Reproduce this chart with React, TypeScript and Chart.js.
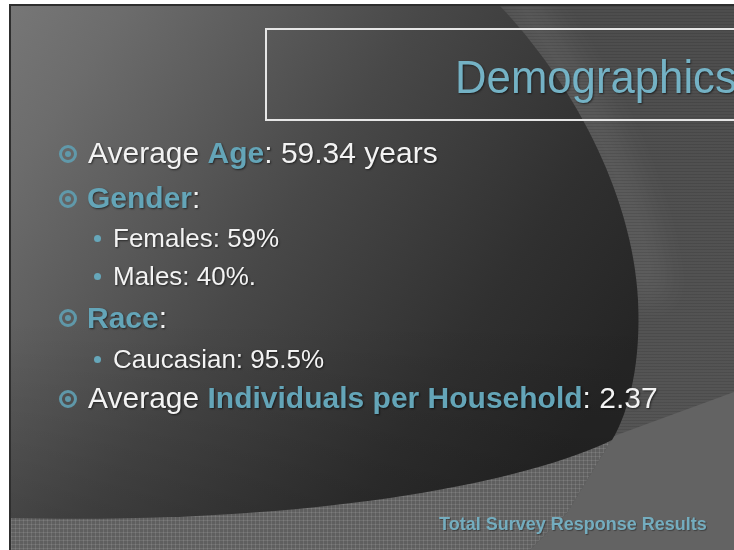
import React, { useEffect, useRef } from 'react';
import { Chart, registerables } from 'chart.js';

Chart.register(...registerables);

// ---- content (data) ----
const titleText = 'Demographics';
const footerText = 'Total Survey Response Results';
const averageAge = [59.34];
const genderLabels = ['Females', 'Males'];
const genderPercents = [59, 40];
const genderSuffix = ['', '.'];
const raceLabels = ['Caucasian'];
const racePercents = [95.5];
const householdSize = [2.37];

const W = 734;
const H = 550;
const TEAL = '#64a5b8';
const WHITE = '#f3f3f3';
const FONT = '"Liberation Sans", Arial, Helvetica, sans-serif';

function darkPath(ctx: CanvasRenderingContext2D, L: number, T: number) {
  ctx.beginPath();
  ctx.moveTo(500, T);
  ctx.bezierCurveTo(570, 80, 632, 190, 638, 300);
  ctx.bezierCurveTo(641, 360, 630, 410, 612, 440);
  ctx.bezierCurveTo(520, 485, 300, 525, L, 518);
  ctx.lineTo(L, T);
  ctx.closePath();
}

function drawSlide(ctx: CanvasRenderingContext2D) {
  const L = 11;
  const T = 6;
  ctx.save();
  ctx.fillStyle = '#ffffff';
  ctx.fillRect(0, 0, W, H);

  // striped base (right area)
  const g0 = ctx.createLinearGradient(0, T, 0, H);
  g0.addColorStop(0, '#4d4d4d');
  g0.addColorStop(1, '#575757');
  ctx.fillStyle = g0;
  ctx.fillRect(L, T, W - L, H - T);

  // soft sheen next to the dark shape
  ctx.save();
  ctx.filter = 'blur(14px)';
  ctx.beginPath();
  ctx.moveTo(505, -20);
  ctx.bezierCurveTo(575, 80, 640, 190, 648, 300);
  ctx.strokeStyle = 'rgba(255,255,255,0.07)';
  ctx.lineWidth = 40;
  ctx.stroke();
  ctx.restore();

  ctx.fillStyle = 'rgba(0,0,0,0.09)';
  for (let y = T; y < H; y += 3) ctx.fillRect(L, y, W - L, 1);

  // grid band at bottom
  ctx.save();
  ctx.beginPath();
  ctx.moveTo(L, 455);
  ctx.lineTo(614, 436);
  ctx.lineTo(567, 513);
  ctx.lineTo(530, H);
  ctx.lineTo(L, H);
  ctx.closePath();
  ctx.clip();
  ctx.fillStyle = '#5f5f5f';
  ctx.fillRect(L, 420, W - L, H - 420);
  ctx.fillStyle = 'rgba(255,255,255,0.10)';
  for (let x = L; x < W; x += 4) ctx.fillRect(x, 420, 1, H - 420);
  for (let y = 420; y < H; y += 4) ctx.fillRect(L, y, W - L, 1);
  ctx.restore();

  // lighter wedge bottom right
  ctx.beginPath();
  ctx.moveTo(614, 436);
  ctx.lineTo(W, 392);
  ctx.lineTo(W, H);
  ctx.lineTo(530, H);
  ctx.lineTo(567, 513);
  ctx.closePath();
  ctx.fillStyle = '#636363';
  ctx.fill();

  // dark shape
  darkPath(ctx, L, T);
  const g1 = ctx.createLinearGradient(0, 0, 600, 400);
  g1.addColorStop(0, '#787878');
  g1.addColorStop(0.15, '#6c6c6c');
  g1.addColorStop(0.5, '#484848');
  g1.addColorStop(0.8, '#303030');
  g1.addColorStop(1, '#252525');
  ctx.fillStyle = g1;
  ctx.fill();
  ctx.save();
  ctx.clip();
  const g2 = ctx.createLinearGradient(0, 320, 0, 520);
  g2.addColorStop(0, 'rgba(0,0,0,0)');
  g2.addColorStop(1, 'rgba(0,0,0,0.16)');
  ctx.fillStyle = g2;
  ctx.fillRect(L, 320, W, 200);
  ctx.restore();

  // slide border lines
  ctx.fillStyle = '#2e2e2e';
  ctx.fillRect(L - 2, T - 2, W - L + 2, 2);
  ctx.fillRect(L - 2, T - 2, 2, H - T + 2);

  // title box
  ctx.strokeStyle = '#e6e6e6';
  ctx.lineWidth = 2;
  ctx.strokeRect(266, 29, W + 10 - 266, 91);
  ctx.restore();
}

const slidePlugin = {
  id: 'slideBackground',
  beforeDraw(chart: any) {
    drawSlide(chart.ctx);
  },
};

function baselineTop(baseline: number, size: number) {
  return baseline - 0.8465 * size;
}

const shadow = '1px 1px 2px rgba(0,0,0,0.55)';
const BULLET = 'rgba(96,156,174,0.95)';

function MainBullet({ y }: { y: number }) {
  return (
    <div
      style={{
        position: 'absolute',
        left: 68 - 9,
        top: y - 9,
        width: 18,
        height: 18,
        borderRadius: '50%',
        border: '3px solid ' + BULLET,
        boxSizing: 'border-box',
      }}
    >
      <div
        style={{
          position: 'absolute',
          left: 3,
          top: 3,
          width: 6,
          height: 6,
          borderRadius: '50%',
          background: BULLET,
        }}
      />
    </div>
  );
}

function SubBullet({ y }: { y: number }) {
  return (
    <div
      style={{
        position: 'absolute',
        left: 97 - 3.5,
        top: y - 3.5,
        width: 7,
        height: 7,
        borderRadius: '50%',
        background: '#66a7ba',
      }}
    />
  );
}

function Line({ x, baseline, size, children }: any) {
  return (
    <div
      style={{
        position: 'absolute',
        left: x,
        top: baselineTop(baseline, size),
        fontSize: size,
        lineHeight: size + 'px',
        fontFamily: FONT,
        color: WHITE,
        whiteSpace: 'nowrap',
        textShadow: shadow,
      }}
    >
      {children}
    </div>
  );
}

const Key = ({ children }: any) => <span style={{ color: TEAL, fontWeight: 'bold' }}>{children}</span>;

export default function App() {
  const ref = useRef<HTMLCanvasElement>(null);
  useEffect(() => {
    if (!ref.current) return;
    const chart = new Chart(ref.current, {
      type: 'scatter',
      data: { datasets: [] },
      options: {
        responsive: false,
        animation: false,
        events: [],
        layout: { padding: 0 },
        plugins: { legend: { display: false }, tooltip: { enabled: false }, title: { display: false } },
        scales: { x: { display: false }, y: { display: false } },
      },
      plugins: [slidePlugin],
    } as any);
    return () => chart.destroy();
  }, []);

  const mainSize = 30;
  const subSize = 26;
  const mainBase = [163, 208, 328, 408];
  const genderBase = [247, 285];
  const raceBase = [368];

  return (
    <div style={{ position: 'absolute', left: 0, top: 0, width: W, height: H, overflow: 'hidden', background: '#fff' }}>
      <canvas ref={ref} width={W} height={H} style={{ position: 'absolute', left: 0, top: 0, width: W, height: H }} />

      <div
        style={{
          position: 'absolute',
          left: 455,
          top: baselineTop(93, 47),
          fontSize: 47,
          lineHeight: '47px',
          fontFamily: FONT,
          color: '#74b2c5',
          whiteSpace: 'nowrap',
          transform: 'scaleX(0.93)',
          transformOrigin: 'left top',
          textShadow: shadow,
        }}
      >
        {titleText}
      </div>

      <MainBullet y={mainBase[0] - 9} />
      <Line x={88} baseline={mainBase[0]} size={mainSize}>
        Average <Key>Age</Key>: {averageAge[0]} years
      </Line>

      <MainBullet y={mainBase[1] - 9} />
      <Line x={87} baseline={mainBase[1]} size={mainSize}>
        <Key>Gender</Key>:
      </Line>
      {genderLabels.map((lab, i) => (
        <React.Fragment key={lab}>
          <SubBullet y={genderBase[i] - 9} />
          <Line x={113} baseline={genderBase[i]} size={subSize}>
            {lab}: {genderPercents[i]}%{genderSuffix[i]}
          </Line>
        </React.Fragment>
      ))}

      <MainBullet y={mainBase[2] - 10} />
      <Line x={87} baseline={mainBase[2]} size={mainSize}>
        <Key>Race</Key>:
      </Line>
      {raceLabels.map((lab, i) => (
        <React.Fragment key={lab}>
          <SubBullet y={raceBase[i] - 9} />
          <Line x={113} baseline={raceBase[i]} size={subSize}>
            {lab}: {racePercents[i]}%
          </Line>
        </React.Fragment>
      ))}

      <MainBullet y={mainBase[3] - 9} />
      <Line x={88} baseline={mainBase[3]} size={mainSize}>
        Average <Key>Individuals per Household</Key>: {householdSize[0]}
      </Line>

      <div
        style={{
          position: 'absolute',
          left: 439,
          top: baselineTop(530, 18),
          fontSize: 18,
          lineHeight: '18px',
          fontWeight: 'bold',
          fontFamily: FONT,
          color: '#74adbf',
          whiteSpace: 'nowrap',
          textShadow: '1px 1px 1px rgba(0,0,0,0.35)',
        }}
      >
        {footerText}
      </div>
    </div>
  );
}
